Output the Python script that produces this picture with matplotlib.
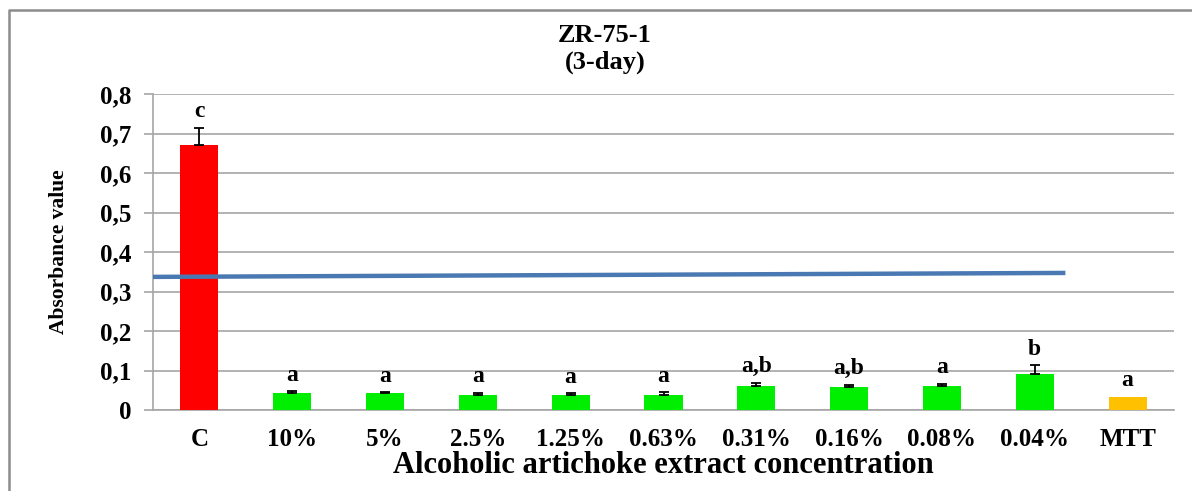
import matplotlib
matplotlib.use("Agg")
import matplotlib.pyplot as plt
from matplotlib.lines import Line2D
from matplotlib.ticker import FuncFormatter

# data
categories = ["C", "10%", "5%", "2.5%", "1.25%", "0.63%", "0.31%", "0.16%", "0.08%", "0.04%", "MTT"]
absorbance = [0.671, 0.044, 0.042, 0.039, 0.039, 0.039, 0.062, 0.058, 0.061, 0.090, 0.034]
error_up = [0.044, 0.003, 0.003, 0.005, 0.003, 0.006, 0.007, 0.006, 0.005, 0.023, 0.0]
letters = ["c", "a", "a", "a", "a", "a", "a,b", "a,b", "a", "b", "a"]
bar_colors = ["#ff0000"] + ["#00ee00"] * 9 + ["#ffc000"]

# blue reference line (start and end of the series)
line_x = [-0.5, 9.33]
line_y = [0.337, 0.347]

plt.rcParams["font.family"] = ["Liberation Serif", "DejaVu Serif"]
plt.rcParams["font.weight"] = "bold"

fig = plt.figure(figsize=(11.92, 4.91), dpi=100)
ax = fig.add_axes([153 / 1192, 1 - 410 / 491, (1174 - 153) / 1192, (410 - 94) / 491])

x = list(range(len(categories)))
ax.bar(x, absorbance, width=0.41, color=bar_colors, zorder=3)

# error bars only where there is one
ex = [xi for xi, e in zip(x, error_up) if e > 0]
ey = [v for v, e in zip(absorbance, error_up) if e > 0]
ee = [e for e in error_up if e > 0]
ax.errorbar(ex, ey, yerr=[[0] * len(ee), ee], fmt="none",
            ecolor="black", elinewidth=1.3, capsize=3.5, capthick=1.3, zorder=4)

for xi, v, e, lab in zip(x, absorbance, error_up, letters):
    ax.annotate(lab, (xi, v + e), xytext=(0, 4), textcoords="offset points",
                ha="center", va="bottom", fontsize=17, fontweight="bold")

ax.plot(line_x, line_y, color="#4a78b2", linewidth=3.2, zorder=5,
        solid_capstyle="butt")

ax.set_xlim(-0.5, len(categories) - 0.5)
ax.set_ylim(0, 0.8)
ax.set_yticks([0, 0.1, 0.2, 0.3, 0.4, 0.5, 0.6, 0.7, 0.8])
ax.yaxis.set_major_formatter(FuncFormatter(
    lambda v, p: "0" if v == 0 else f"{v:.1f}".replace(".", ",")))
ax.set_xticks(x)
ax.set_xticklabels(categories)

ax.grid(axis="y", color="#a6a6a6", linewidth=1.2, zorder=0)
for s in ["top", "right"]:
    ax.spines[s].set_visible(False)
ax.spines["left"].set_color("#a6a6a6")
ax.spines["bottom"].set_color("#a6a6a6")
ax.spines["left"].set_linewidth(1.2)
ax.spines["bottom"].set_linewidth(1.2)
ax.tick_params(axis="y", length=6.5, width=1.2, color="#a6a6a6", pad=9, labelsize=18)
ax.tick_params(axis="x", length=0, pad=13, labelsize=18)

ax.set_ylabel("Absorbance value", fontsize=15.5, fontweight="bold", labelpad=22)
ax.set_xlabel("Alcoholic artichoke extract concentration", fontsize=22,
              fontweight="bold", labelpad=0)

fig.text(605 / 1192, 1 - 36 / 491, "ZR-75-1", ha="center", va="center",
         fontsize=19, fontweight="bold")
fig.text(605 / 1192, 1 - 62 / 491, "(3-day)", ha="center", va="center",
         fontsize=19, fontweight="bold")

# outer chart frame (top and left edges visible)
fig.add_artist(Line2D([9 / 1192, 9 / 1192, 1.0], [0.0, 1 - 10 / 491, 1 - 10 / 491],
                      transform=fig.transFigure, color="#8c8c8c", linewidth=1.8))

fig.savefig("out.png", dpi=100)
